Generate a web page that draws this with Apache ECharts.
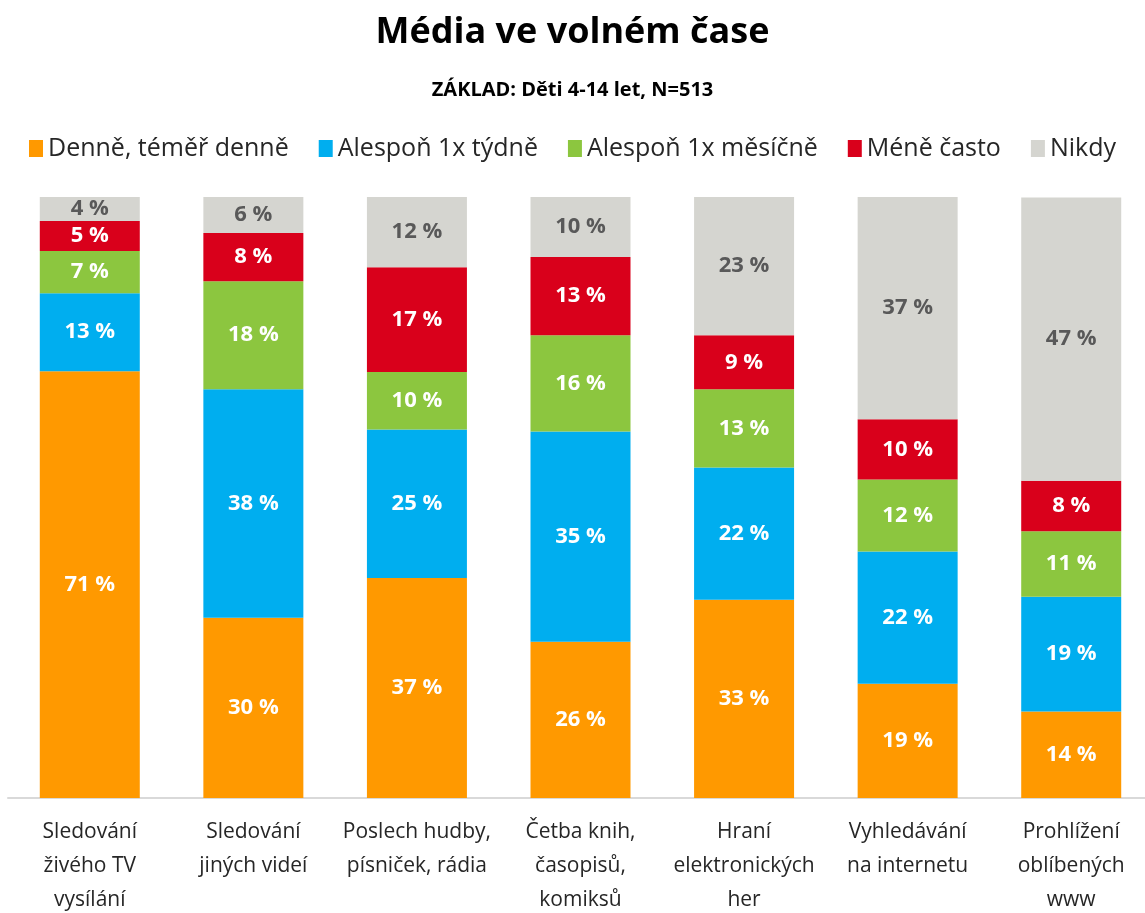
<!DOCTYPE html>
<html>
<head>
<meta charset="utf-8">
<script src="https://cdn.jsdelivr.net/npm/echarts@6/dist/echarts.min.js"></script>
<style>
  html, body { margin: 0; padding: 0; background: #fff; }
  #chart { width: 1145px; height: 913px; }
</style>
</head>
<body>
<div id="chart"></div>
<script>
// kategorie
var categories = [
  'Sledování\nživého TV\nvysílání',
  'Sledování\njiných videí',
  'Poslech hudby,\npísniček, rádia',
  'Četba knih,\nčasopisů,\nkomiksů',
  'Hraní\nelektronických\nher',
  'Vyhledávání\nna internetu',
  'Prohlížení\noblíbených\nwww'
];
var seriesNames = ['Denně, téměř denně', 'Alespoň 1x týdně', 'Alespoň 1x měsíčně', 'Méně často', 'Nikdy'];

// hodnoty v %
var denne   = [71, 30, 36.6, 26, 33, 19, 14.4];
var tydne   = [13, 38, 24.7, 35, 22, 22, 19.1];
var mesicne = [7, 18, 9.6, 16, 13, 12, 10.9];
var mene    = [5, 8, 17.4, 13, 9, 10, 8.4];
var nikdy   = [4, 6, 11.7, 10, 23, 37, 47.1];

var colors = ['#ff9900', '#00aeef', '#8cc63f', '#d9001b', '#d5d5d0'];
var font = 'Open Sans';

function makeSeries(name, data, idx) {
  return {
    name: name,
    type: 'bar',
    stack: 'total',
    barWidth: 100,
    data: data,
    itemStyle: { color: colors[idx] },
    label: {
      show: true,
      position: 'inside',
      fontFamily: font,
      fontWeight: 'bold',
      fontSize: 22,
      color: idx === 4 ? '#595959' : '#fff',
      formatter: function (p) { return Math.round(p.value) + ' %'; }
    }
  };
}

var chart = echarts.init(document.getElementById('chart'));
chart.setOption({
  animation: false,
  title: [{
    text: 'Média ve volném čase',
    left: 'center',
    top: 10,
    textStyle: { fontFamily: font, fontWeight: 'bold', fontSize: 36, color: '#000' }
  }, {
    text: 'ZÁKLAD: Děti 4-14 let, N=513',
    left: 'center',
    top: 75,
    textStyle: { fontFamily: font, fontWeight: 'bold', fontSize: 20, color: '#000' }
  }],
  legend: {
    data: seriesNames,
    top: 131,
    left: 'center',
    itemWidth: 14,
    itemHeight: 17,
    itemGap: 30,
    icon: 'rect',
    textStyle: { fontFamily: font, fontSize: 25, color: '#262626' }
  },
  grid: { left: 8, right: -8, top: 197, bottom: 115, outerBoundsMode: 'none', containLabel: false },
  xAxis: {
    type: 'category',
    data: categories,
    axisTick: { show: false },
    axisLine: { lineStyle: { color: '#d9d9d9', width: 2 } },
    axisLabel: {
      interval: 0,
      margin: 17,
      fontFamily: font,
      fontSize: 21,
      lineHeight: 34,
      color: '#262626'
    }
  },
  yAxis: { type: 'value', min: 0, max: 100, show: false, splitLine: { show: false } },
  series: [
    makeSeries(seriesNames[0], denne, 0),
    makeSeries(seriesNames[1], tydne, 1),
    makeSeries(seriesNames[2], mesicne, 2),
    makeSeries(seriesNames[3], mene, 3),
    makeSeries(seriesNames[4], nikdy, 4)
  ]
});
</script>
</body>
</html>
